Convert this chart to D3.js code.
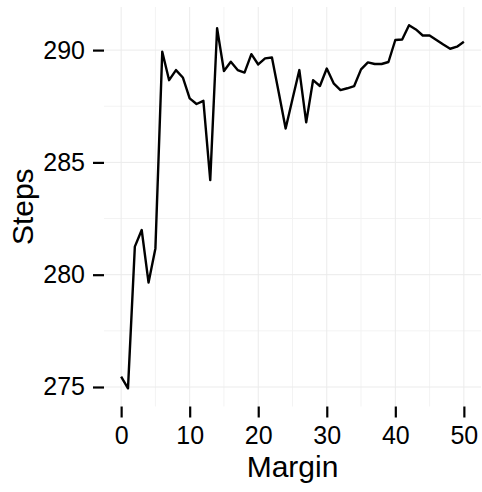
<!DOCTYPE html>
<html>
<head>
<meta charset="utf-8">
<script src="https://cdn.jsdelivr.net/npm/d3@7"></script>
<style>
  body { margin: 0; background: #fff; }
  svg { display: block; font-family: "Liberation Sans", Arial, sans-serif; }
</style>
</head>
<body>
<svg id="chart" width="482" height="492"></svg>
<script>
// Steps reached for each margin value (0..50)
const margins = d3.range(0, 51);
const steps = [
  275.46, 274.94, 281.25, 281.99, 279.65, 281.17, 289.93, 288.66, 289.11, 288.78,
  287.85, 287.60, 287.74, 284.21, 290.97, 289.07, 289.48, 289.11, 289.00, 289.82,
  289.36, 289.63, 289.67, 288.10, 286.51, 287.82, 289.11, 286.78, 288.66, 288.40,
  289.18, 288.52, 288.22, 288.30, 288.40, 289.14, 289.45, 289.38, 289.38, 289.47,
  290.45, 290.47, 291.11, 290.92, 290.65, 290.65, 290.45, 290.25, 290.06, 290.15,
  290.37
];
const xTicks = [0, 10, 20, 30, 40, 50];
const xMinor = [5, 15, 25, 35, 45];
const yTicks = [275, 280, 285, 290];
const yMinor = [277.5, 282.5, 287.5];

const svg = d3.select("#chart");
const panel = { left: 104, right: 481, top: 7, bottom: 406.5 };

// ggplot-style 5% expansion
const xr = d3.extent(margins), yr = d3.extent(steps);
const xpad = (xr[1] - xr[0]) * 0.05, ypad = (yr[1] - yr[0]) * 0.05;
const x = d3.scaleLinear().domain([xr[0] - xpad, xr[1] + xpad]).range([panel.left, panel.right]);
const y = d3.scaleLinear().domain([yr[0] - ypad, yr[1] + ypad]).range([panel.bottom, panel.top]);

// grid lines
const grid = svg.append("g");
grid.selectAll(".vmin").data(xMinor).join("line")
  .attr("x1", d => x(d)).attr("x2", d => x(d))
  .attr("y1", panel.top).attr("y2", panel.bottom)
  .attr("stroke", "#f3f3f3").attr("stroke-width", 1);
grid.selectAll(".hmin").data(yMinor).join("line")
  .attr("y1", d => y(d)).attr("y2", d => y(d))
  .attr("x1", panel.left).attr("x2", panel.right)
  .attr("stroke", "#f3f3f3").attr("stroke-width", 1);
grid.selectAll(".vmaj").data(xTicks).join("line")
  .attr("x1", d => x(d)).attr("x2", d => x(d))
  .attr("y1", panel.top).attr("y2", panel.bottom)
  .attr("stroke", "#ebebeb").attr("stroke-width", 1);
grid.selectAll(".hmaj").data(yTicks).join("line")
  .attr("y1", d => y(d)).attr("y2", d => y(d))
  .attr("x1", panel.left).attr("x2", panel.right)
  .attr("stroke", "#ebebeb").attr("stroke-width", 1);

// axes (ticks + labels, no domain line)
const xAxis = svg.append("g")
  .attr("transform", `translate(0,${panel.bottom})`)
  .call(d3.axisBottom(x).tickValues(xTicks).tickSize(11).tickPadding(9));
xAxis.select(".domain").remove();
xAxis.selectAll("line").attr("stroke", "#000").attr("stroke-width", 2.2);
xAxis.selectAll("text").attr("font-size", 25).attr("fill", "#000")
  .attr("font-family", "Liberation Sans, Arial, sans-serif");

const yAxis = svg.append("g")
  .attr("transform", `translate(${panel.left},0)`)
  .call(d3.axisLeft(y).tickValues(yTicks).tickSize(11).tickPadding(8));
yAxis.select(".domain").remove();
yAxis.selectAll("line").attr("stroke", "#000").attr("stroke-width", 2.2);
yAxis.selectAll("text").attr("font-size", 25).attr("fill", "#000")
  .attr("font-family", "Liberation Sans, Arial, sans-serif");

// the line
const line = d3.line().x((d, i) => x(margins[i])).y(d => y(d));
svg.append("path")
  .datum(steps)
  .attr("d", line)
  .attr("fill", "none")
  .attr("stroke", "#000")
  .attr("stroke-width", 2.4)
  .attr("stroke-linejoin", "round");

// axis titles
svg.append("text")
  .attr("x", (panel.left + panel.right) / 2)
  .attr("y", 477)
  .attr("text-anchor", "middle")
  .attr("font-size", 30)
  .text("Margin");
svg.append("text")
  .attr("transform", `translate(33,${(panel.top + panel.bottom) / 2}) rotate(-90)`)
  .attr("text-anchor", "middle")
  .attr("font-size", 30)
  .text("Steps");
</script>
</body>
</html>
